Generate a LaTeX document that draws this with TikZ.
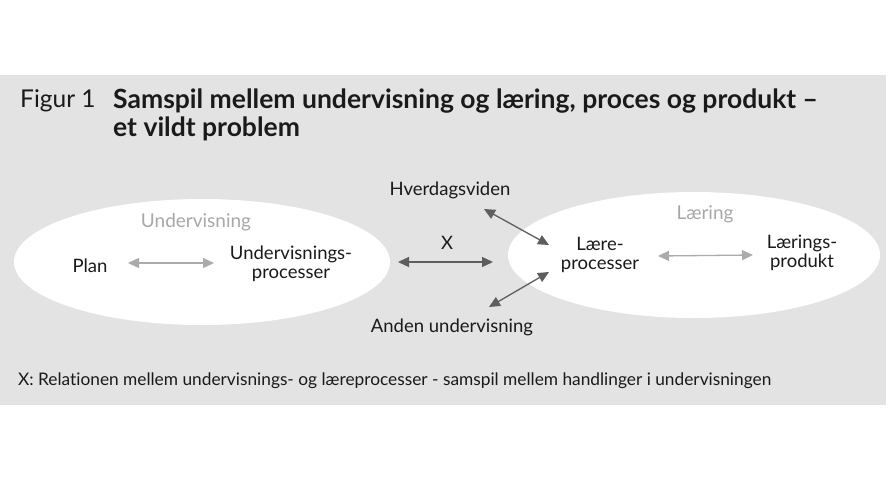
\documentclass[tikz,border=0pt]{standalone}
\usepackage{fontspec}
\setmainfont[Ligatures=NoCommon]{Lato}
\usetikzlibrary{arrows.meta,shapes.geometric}
\definecolor{panel}{HTML}{E3E3E3}
\definecolor{lightarr}{HTML}{ABABAB}
\definecolor{darkarr}{HTML}{5E5E5E}
\definecolor{softtext}{HTML}{A8A8A8}
\definecolor{ink}{HTML}{1A1A1A}
\tikzset{
  lbl/.style={text=ink, font=\fontsize{18.5}{19}\selectfont, align=center, inner sep=0pt},
  grp/.style={text=softtext, font=\fontsize{19}{20}\selectfont, inner sep=0pt},
  oval/.style={ellipse, fill=white, draw=none, inner sep=0pt},
  softarrow/.style={draw=lightarr, line width=1.3pt, {Triangle[length=11pt,width=10pt]}-{Triangle[length=11pt,width=10pt]}},
  hardarrow/.style={draw=darkarr, line width=1.3pt, {Triangle[length=11pt,width=10pt]}-{Triangle[length=11pt,width=10pt]}}
}
\begin{document}
\begin{tikzpicture}[x=1pt,y=-1pt]
\useasboundingbox (0,0) rectangle (892,480);
\fill[panel] (0,75) rectangle (886,405);
\node[oval, minimum width=376pt, minimum height=126pt] (lell) at (202,262) {};
\node[oval, minimum width=372pt, minimum height=126pt] (rell) at (694,255) {};
% title
\node[anchor=west, text=ink, font=\fontsize{24.5}{25}\selectfont, inner sep=0pt] (fig) at (20,101) {Figur 1};
\node[anchor=west, text=ink, font=\bfseries\fontsize{26.5}{27}\selectfont, inner sep=0pt] (t1) at (113,101) {Samspil mellem undervisning og læring, proces og produkt –};
\node[anchor=west, text=ink, font=\bfseries\fontsize{26.5}{27}\selectfont, inner sep=0pt] (t2) at (113,129) {et vildt problem};
% left group
\node[grp] (und) at (196,222) {Undervisning};
\node[lbl] (plan) at (90,266) {Plan};
\node[lbl] (uproc) at (291,264) {Undervisnings-\\processer};
% right group
\node[grp] (laer) at (705,214) {Læring};
\node[lbl] (lproc) at (600,255) {Lære-\\processer};
\node[lbl] (lprod) at (802,253) {Lærings-\\produkt};
% middle
\node[lbl] (x) at (447,243) {X};
\node[lbl] (hv) at (450,190) {Hverdagsviden};
\node[lbl] (au) at (452,327) {Anden undervisning};
% caption
\node[anchor=west, text=ink, font=\fontsize{17.3}{18}\selectfont, inner sep=0pt] (cap) at (18,381) {X: Relationen mellem undervisnings- og læreprocesser - samspil mellem handlinger i undervisningen};
% connectors
\coordinate (pa) at (128,263);
\coordinate (pb) at (214,263);
\draw[softarrow] (pa) -- (pb);
\coordinate (xa) at (398,262);
\coordinate (xb) at (493,262);
\draw[hardarrow] (xa) -- (xb);
\coordinate (ha) at (484,209);
\coordinate (hb) at (549,245);
\draw[hardarrow] (ha) -- (hb);
\coordinate (aa) at (489,307);
\coordinate (ab) at (549,272);
\draw[hardarrow] (aa) -- (ab);
\coordinate (la) at (658,256);
\coordinate (lb) at (753,255);
\draw[softarrow] (la) -- (lb);
\end{tikzpicture}
\end{document}
